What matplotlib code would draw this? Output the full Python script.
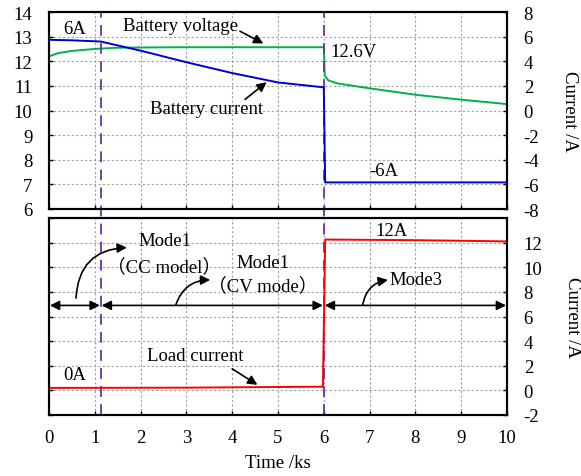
import matplotlib
matplotlib.use("Agg")
import matplotlib.pyplot as plt

plt.rcParams['font.family'] = ['Liberation Serif', 'Noto Sans CJK SC', 'DejaVu Serif']
plt.rcParams['font.size'] = 13.5
plt.rcParams['axes.unicode_minus'] = False

# Top panel data
t_v = [0, 0.2, 0.5, 1.0, 1.5, 2, 3, 4, 5, 6.0, 6.02, 6.1, 6.3, 7, 8, 9, 10]
volt = [12.2, 12.33, 12.42, 12.5, 12.55, 12.56, 12.57, 12.57, 12.57, 12.57,
        11.42, 11.22, 11.1, 10.9, 10.64, 10.44, 10.26]
t_i = [0, 0.5, 1.13, 2, 3, 4, 5, 6.0, 6.03, 7, 8, 9, 10]
batt_i = [5.74, 5.7, 5.6, 4.86, 3.92, 3.04, 2.28, 1.88, -5.84, -5.84, -5.84, -5.84, -5.84]

# Bottom panel data
t_load = [0, 3, 5.98, 6.03, 8, 10]
load_i = [0.2, 0.22, 0.3, 12.25, 12.2, 12.1]

mode_bounds = [0, 1.13, 6.0, 10]

W, H = 581, 477
fig = plt.figure(figsize=(W/100, H/100), dpi=100)
L, R = 49/W, 507/W
ax1 = fig.add_axes([L, 1-210/H, R-L, 197/H])
ax2 = fig.add_axes([L, 1-416/H, R-L, 197/H])

grid_kw = dict(color='#a0a0a0', linestyle=(0, (2, 2)), linewidth=0.8)

# ---- top
ax1.plot(t_v, volt, color='#00b050', lw=1.4, zorder=3)
ax1.set_xlim(0, 10)
ax1.set_ylim(6, 14)
ax1.set_yticks(range(6, 15))
ax1.set_xticks(range(0, 11))
ax1.set_xticklabels([])
ax1.grid(True, **grid_kw)
ax1r = ax1.twinx()
ax1r.plot(t_i, batt_i, color='#0000cc', lw=1.4, zorder=3)
ax1r.set_ylim(-8, 8)
ax1r.set_yticks(range(-8, 9, 2))
ax1r.set_ylabel('Current /A', rotation=270, labelpad=28)

for a in (ax1, ax1r):
    a.tick_params(direction='in', length=3, width=1)
    for s in a.spines.values():
        s.set_linewidth(1.5)
ax1r.tick_params(axis='y', pad=12)
ax1.tick_params(axis='y', pad=12)

arrow_kw = dict(arrowstyle='-|>', color='black', lw=1.2, mutation_scale=14,
                shrinkA=0, shrinkB=0)
ax1.text(0.56, 13.35, '6A', ha='center', va='center')
ax1.text(2.87, 13.45, 'Battery voltage', ha='center', va='center')
ax1.annotate('', xy=(4.68, 12.72), xytext=(4.17, 13.22), arrowprops=arrow_kw)
ax1.text(3.43, 10.1, 'Battery current', ha='center', va='center')
ax1.annotate('', xy=(4.75, 11.15), xytext=(4.28, 10.45), arrowprops=arrow_kw)
ax1.text(6.15, 12.4, '12.6V', ha='left', va='center')
ax1r.text(7.3, -4.9, '-6A', ha='center', va='center')

# ---- bottom
ax2.plot(t_load, load_i, color='#ff0000', lw=1.4, zorder=3)
ax2.set_xlim(0, 10)
ax2.set_ylim(-2, 14)
ax2.set_xticks(range(0, 11))
ax2.set_yticks(range(-2, 15, 2))
ax2.set_yticklabels([])
ax2.grid(True, **grid_kw)
ax2.set_xlabel('Time /ks', labelpad=6)
ax2r = ax2.twinx()
ax2r.set_ylim(-2, 14)
ax2r.set_yticks(range(-2, 13, 2))
ax2r.set_ylabel('Current /A', rotation=270, labelpad=28)
for a in (ax2, ax2r):
    a.tick_params(direction='in', length=3, width=1)
    for s in a.spines.values():
        s.set_linewidth(1.5)
ax2r.tick_params(axis='y', pad=12)
ax2.tick_params(axis='x', pad=10)

# mode double arrows
yarr = 6.9
for a0, a1 in zip(mode_bounds[:-1], mode_bounds[1:]):
    ax2.annotate('', xy=(a0 + 0.02, yarr), xytext=(a1 - 0.02, yarr),
                 arrowprops=dict(arrowstyle='<|-|>', color='black', lw=1.2,
                                 mutation_scale=14, shrinkA=0, shrinkB=0), zorder=4)

curv = dict(arrow_kw, connectionstyle='arc3,rad=-0.45')
ax2.annotate('', xy=(1.7, 11.6), xytext=(0.59, 7.5), arrowprops=curv)
ax2.text(2.53, 12.2, 'Mode1', ha='center', va='center')
ax2.text(2.52, 10.1, '（CC model）', ha='center', va='center')
curv2 = dict(arrow_kw, connectionstyle='arc3,rad=-0.35')
ax2.annotate('', xy=(3.52, 8.97), xytext=(2.77, 6.95), arrowprops=curv2)
ax2.text(4.67, 10.4, 'Mode1', ha='center', va='center')
ax2.text(4.66, 8.5, '（CV mode）', ha='center', va='center')
ax2.annotate('', xy=(7.4, 8.97), xytext=(6.85, 6.95), arrowprops=curv2)
ax2.text(8.02, 8.97, 'Mode3', ha='center', va='center')
ax2.text(3.2, 2.85, 'Load current', ha='center', va='center')
ax2.annotate('', xy=(4.55, 0.45), xytext=(4.0, 1.75), arrowprops=arrow_kw)
ax2.text(0.55, 1.3, '0A', ha='center', va='center')
ax2.text(7.47, 12.95, '12A', ha='center', va='center')

# purple dashed mode boundaries spanning both panels
top_in_ax2 = (1 - 13/H - (1 - 416/H)) / (197/H)
for xb in mode_bounds[1:-1]:
    ax2.axvline(xb, ymin=0, ymax=top_in_ax2, color='#7030a0', lw=1.3,
                linestyle=(0, (6, 4)), clip_on=False, zorder=2)

fig.savefig('out.png', dpi=100)
